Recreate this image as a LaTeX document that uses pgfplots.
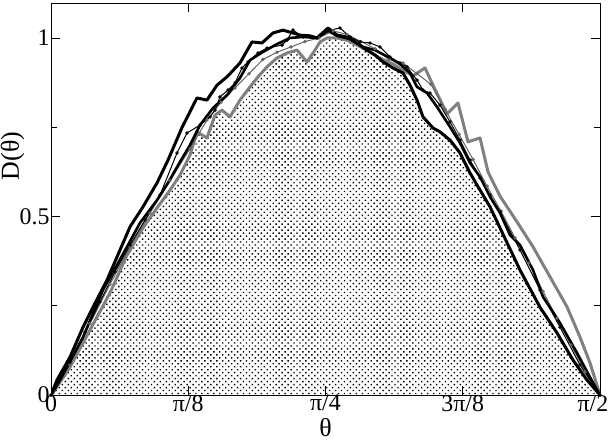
\documentclass[border=0pt]{standalone}
\usepackage{fontspec}
\setmainfont{Liberation Serif}
\usepackage{pgfplots}
\pgfplotsset{compat=1.18}
\usetikzlibrary{patterns.meta}

\begin{document}
\begin{tikzpicture}
\begin{axis}[
    name=ax,
    scale only axis,
    width=549bp, height=392bp,
    xmin=0, xmax=90, ymin=0, ymax=1.098,
    xtick={0,22.5,45,67.5,90},
    xticklabels={0,π/8,π/4,3π/8,\hspace*{-14bp}π/2},
    ytick={0,0.5,1},
    minor y tick num=1,
    tick align=inside,
    major tick length=9bp, minor tick length=6bp,
    tick style={black, line width=0.8bp},
    axis line style={black, line width=0.9bp},
    tick label style={font=\fontsize{24}{26}\selectfont},
    /pgf/number format/assume math mode=true,
    xticklabel style={anchor=north, yshift=1bp, inner sep=1bp},
    yticklabel style={anchor=east, xshift=2bp},
    xlabel={θ}, ylabel={D(θ)},
    label style={font=\fontsize{26}{28}\selectfont},
    xlabel style={at={(axis description cs:0.5,0)}, anchor=base, yshift=-41bp, inner sep=0pt},
    ylabel style={at={(axis description cs:-0.07,0.61)}, anchor=center},
]
% shaded reference distribution (lower envelope)
\addplot[draw=none, pattern={Dots[distance=4.2bp, angle=45, radius=1bp]}] coordinates {
(0,0) (0.33,0.006) (3.11,0.078) (6.39,0.182) (9.67,0.286) (12.46,0.392)
(15.08,0.468) (17.38,0.524) (19.51,0.574) (21.15,0.616) (22.79,0.672)
(23.93,0.737) (25.57,0.720) (26.89,0.784) (28.03,0.798) (29.34,0.779)
(30.98,0.826) (32.62,0.863) (33.93,0.891) (35.41,0.919) (37.05,0.944)
(38.69,0.958) (40.33,0.966) (41.97,0.933) (43.28,0.966) (44.10,0.989)
(45.25,1.000) (46.89,1.000) (48.52,1.003) (50.16,0.986) (51.80,0.966)
(53.11,0.952) (54.43,0.933) (56.07,0.916) (57.70,0.902) (58.85,0.868)
(60.00,0.826) (60.98,0.779) (62.62,0.748) (63.77,0.737) (65.41,0.714)
(67.05,0.678) (68.69,0.622) (70.33,0.574) (71.97,0.527) (73.61,0.468)
(76.89,0.350) (80.16,0.246) (82.95,0.174) (85.57,0.098) (87.87,0.042) (90,0)
} \closedcycle;

% gray (skewed right)
\addplot[black!50, line width=3bp, line join=round] coordinates {
(0,0) (0.33,0.006) (3.11,0.078) (6.39,0.182) (9.67,0.286) (12.46,0.392)
(15.08,0.468) (17.38,0.524) (19.51,0.574) (21.15,0.616) (22.79,0.672)
(23.93,0.737) (25.57,0.720) (26.89,0.784) (28.03,0.798) (29.34,0.779)
(30.98,0.826) (32.62,0.863) (33.93,0.891) (35.41,0.919) (37.05,0.944)
(38.69,0.958) (40.33,0.966) (41.97,0.933) (43.28,0.966) (44.10,0.989)
(45.25,1.000) (46.89,1.000) (48.52,0.994) (50.16,0.980) (51.80,0.966)
(53.93,0.944) (56.07,0.927) (57.70,0.910) (59.34,0.894) (61.31,0.916)
(62.62,0.868) (64.92,0.787) (66.72,0.818) (68.36,0.709) (70.33,0.720)
(71.64,0.625) (73.61,0.557) (76.39,0.485) (79.02,0.415) (81.80,0.331)
(84.59,0.247) (86.72,0.162) (88.36,0.090) (90,0)
};

% dark gray with markers
\addplot[black!60, line width=1bp, mark=o, mark size=1.2bp, mark options={solid}] coordinates {
(0,0) (3.11,0.085) (6.39,0.2) (9.67,0.31) (12.95,0.415) (16.23,0.51)
(19.51,0.6) (22.79,0.69) (25.57,0.77) (27.87,0.82) (30.16,0.86) (32.46,0.9)
(34.75,0.94) (37.05,0.96) (39.34,0.975) (41.64,0.99) (43.93,1.0) (46.23,1.02)
(48.52,1.01) (50.82,0.99) (53.11,0.97) (55.41,0.94) (57.70,0.93) (60.0,0.9)
(62.3,0.87) (64.59,0.8) (66.89,0.73) (69.18,0.66) (71.48,0.585) (73.77,0.515)
(76.07,0.44) (78.36,0.37) (80.66,0.29) (82.95,0.215) (85.25,0.14) (87.54,0.065) (90,0)
};

% black with markers
\addplot[black, line width=1bp, mark=o, mark size=1.2bp] coordinates {
(0,0) (0.66,0.020) (3.11,0.092) (5.57,0.176) (8.03,0.261) (10.49,0.345)
(12.95,0.420) (15.41,0.490) (17.87,0.560) (20.66,0.678) (22.30,0.734)
(24.43,0.756) (26.07,0.779) (26.89,0.798) (27.70,0.835) (29.02,0.854)
(30.16,0.874) (31.31,0.916) (32.30,0.933) (33.93,0.958) (35.41,0.972)
(37.87,0.980) (38.69,0.994) (39.67,1.022) (41.31,1.003) (43.61,1.000)
(45.74,1.022) (47.38,1.028) (49.02,1.003) (50.66,0.989) (52.30,0.986)
(53.93,0.975) (55.57,0.947) (57.21,0.930) (58.36,0.919) (60.00,0.882)
(60.98,0.854) (62.13,0.846) (63.77,0.812) (65.41,0.765) (67.05,0.714)
(68.69,0.658) (70.33,0.608) (71.97,0.560) (73.61,0.513) (76.89,0.406)
(80.16,0.294) (83.44,0.190) (86.72,0.084) (90,0)
};

% black, second thick
\addplot[black, line width=2.6bp, line join=round] coordinates {
(0,0) (1.48,0.042) (5.25,0.162) (8.52,0.294) (12.46,0.415) (14.59,0.482)
(17.38,0.546) (19.18,0.594) (21.15,0.653) (22.79,0.700) (24.43,0.756)
(26.56,0.804) (28.85,0.840) (30.98,0.888) (32.62,0.938) (34.75,0.961)
(37.05,0.983) (39.18,1.000) (41.31,1.003) (43.61,1.000) (45.41,1.020)
(46.89,1.006) (49.02,0.997) (51.15,0.975) (53.11,0.966) (55.57,0.944)
(57.21,0.927) (58.85,0.902) (60.00,0.863) (61.64,0.846) (63.28,0.807)
(65.41,0.751) (67.05,0.706) (68.69,0.650) (70.33,0.611) (71.97,0.555)
(73.61,0.510) (75.25,0.448) (76.89,0.420) (79.02,0.350) (80.66,0.275)
(83.44,0.202) (86.23,0.118) (88.36,0.050) (90,0)
};

% black, thick (skewed left)
\addplot[black, line width=3bp, line join=round] coordinates {
(0,0) (0.98,0.042) (3.11,0.106) (5.25,0.190) (6.89,0.246) (9.18,0.322)
(11.31,0.406) (12.95,0.471) (15.08,0.527) (17.38,0.594) (19.18,0.658)
(21.5,0.75) (23.93,0.832) (25.57,0.826) (27.21,0.868) (28.85,0.891)
(30.98,0.930) (32.95,0.989) (34.59,0.986) (36.39,1.014) (38.03,1.022)
(39.67,1.014) (40.82,1.008) (42.46,1.006) (43.61,1.000) (45.41,1.028)
(46.89,1.008) (48.52,1.003) (50.16,0.986) (51.80,0.966) (53.11,0.952)
(54.43,0.933) (56.07,0.916) (57.70,0.902) (58.85,0.868) (60.00,0.826)
(60.98,0.779) (62.62,0.748) (63.77,0.737) (65.41,0.714) (67.05,0.678)
(68.69,0.622) (70.33,0.574) (71.97,0.527) (73.61,0.468) (76.89,0.350)
(80.16,0.246) (82.95,0.174) (85.57,0.098) (87.87,0.042) (90,0)
};
\end{axis}
\pgfresetboundingbox
\path ([shift={(-51bp,-46bp)}]ax.south west) rectangle ([shift={(11bp,3bp)}]ax.north east);
\end{tikzpicture}
\end{document}
